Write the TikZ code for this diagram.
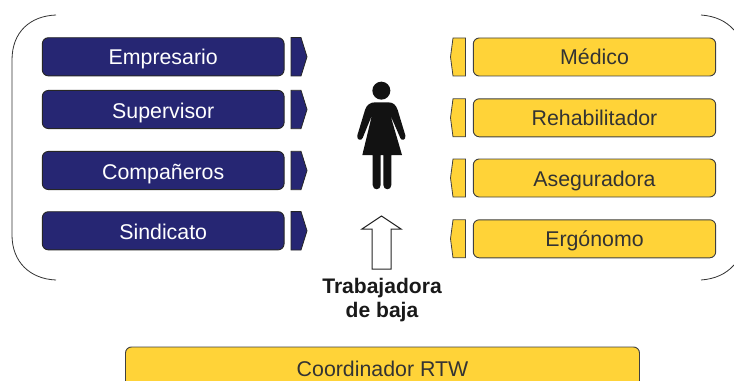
\documentclass[tikz,border=0pt]{standalone}
\usepackage{fontspec}
\setmainfont{Liberation Sans}
\definecolor{navy}{HTML}{262673}
\definecolor{gold}{HTML}{FFD338}
\definecolor{inkd}{HTML}{333333}
\tikzset{
  every node/.style={font=\fontsize{16}{19}\selectfont},
  navybox/.style={draw=black!85,line width=0.7pt,fill=navy,text=white,rounded corners=4.5pt,minimum width=181.3pt,minimum height=28.6pt,inner sep=0pt,text height=12.6pt,text depth=1.4pt},
  navylow/.style={navybox,text height=14.4pt},
  goldbox/.style={draw=black!75,line width=0.7pt,fill=gold,text=inkd,rounded corners=4.5pt,minimum width=181.8pt,minimum height=28.5pt,inner sep=0pt,text height=13pt,text depth=1pt},
  navychev/.style={draw=black!85,line width=0.6pt,fill=navy},
  goldchev/.style={draw=black!75,line width=0.6pt,fill=gold},
  brace/.style={draw=black!80,line width=0.6pt},
}
\newcommand{\rchev}[1]{\path[navychev] (291,#1-19.2) -- (301,#1-19.2) -- (307,#1) -- (301,#1+19.2) -- (291,#1+19.2) -- cycle;}
\newcommand{\lchev}[1]{\path[goldchev] (465.5,#1-19) -- (453,#1-19) -- (450.5,#1) -- (453,#1+19) -- (465.5,#1+19) -- cycle;}
\begin{document}
\begin{tikzpicture}[x=0.75pt,y=-0.75pt]
\useasboundingbox (0,0) rectangle (734,381);
\clip (0,0) rectangle (734,381);
% brackets
\path[brace] (56,15) .. controls (30,16) and (12,32) .. (12,60) -- (12,235) .. controls (12,262) and (30,279) .. (56,280);
\path[brace] (701,15) .. controls (715,16) and (726,21) .. (734,30);
\path[brace] (701,280) .. controls (715,279) and (726,274) .. (734,265);
% left column
\node[navybox] (emp) at (163.2,56.8) {Empresario};
\node[navylow] (sup) at (163.2,109.5) {Supervisor};
\node[navylow] (com) at (163.2,170.5) {Compañeros};
\node[navylow] (sin) at (163.2,230.8) {Sindicato};
\rchev{56.8}\rchev{109.5}\rchev{170.5}\rchev{230.8}
% right column
\node[goldbox] (med) at (594.5,57) {Médico};
\node[goldbox] (reh) at (594.5,117.8) {Rehabilitador};
\node[goldbox] (ase) at (594.5,178) {Aseguradora};
\node[goldbox] (erg) at (594.5,238.8) {Ergónomo};
\lchev{57}\lchev{117.8}\lchev{178}\lchev{238.8}
% woman
\begin{scope}[shift={(330,60)},x=0.25pt,y=-0.25pt]
\fill[black!93] (154,92) circle (27);
\fill[black!93,line join=round] (135,127) -- (175,127)
  .. controls (190,127) and (198,135) .. (203,150)
  -- (226,226) .. controls (229,240) and (214,244) .. (211,234)
  -- (181,165) -- (216,285) -- (184,285) -- (184,375)
  .. controls (184,392) and (160,392) .. (160,375)
  -- (160,285) -- (152,285) -- (152,375)
  .. controls (152,392) and (128,392) .. (128,375)
  -- (128,285) -- (97,285) -- (126,165) -- (98,234)
  .. controls (94,244) and (79,240) .. (82,226)
  -- (105,150) .. controls (110,135) and (120,127) .. (135,127) -- cycle;
\end{scope}
% arrow
\path[draw=black!85,fill=white,line width=0.75pt] (381.5,216) -- (401,229) -- (391,229) -- (391,269) -- (372,269) -- (372,229) -- (362,229) -- cycle;
% caption
\node[font=\fontsize{15.8}{18.6}\selectfont\bfseries,align=center,text=black!90] (lab) at (382,300) {Trabajadora\\de baja};
% bottom
\node[goldbox,minimum width=385.5pt,minimum height=31.5pt] (rtw) at (382.5,368) {Coordinador RTW};
\end{tikzpicture}
\end{document}
